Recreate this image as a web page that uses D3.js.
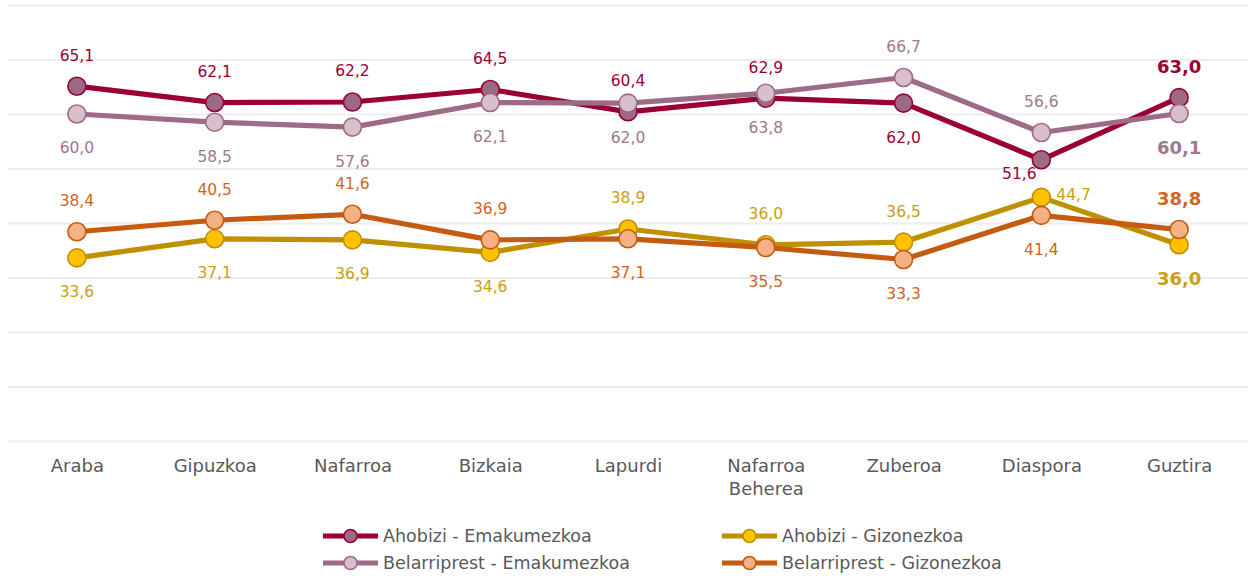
<!DOCTYPE html>
<html><head><meta charset="utf-8">
<script src="https://cdn.jsdelivr.net/npm/d3@7/dist/d3.min.js"></script>
<style>body{margin:0;background:#fff;}svg{display:block;font-family:"DejaVu Sans",sans-serif;}</style>
</head><body><svg id="c" width="1251" height="578"></svg>
<script>
const categories = ["Araba","Gipuzkoa","Nafarroa","Bizkaia","Lapurdi","Nafarroa Beherea","Zuberoa","Diaspora","Guztira"];
const ahobiziEmakume = [65.1,62.1,62.2,64.5,60.4,62.9,62.0,51.6,63.0];
const belarriprestEmakume = [60.0,58.5,57.6,62.1,62.0,63.8,66.7,56.6,60.1];
const ahobiziGizon = [33.6,37.1,36.9,34.6,38.9,36.0,36.5,44.7,36.0];
const belarriprestGizon = [38.4,40.5,41.6,36.9,37.1,35.5,33.3,41.4,38.8];
const seriesNames = ["Ahobizi - Emakumezkoa","Ahobizi - Gizonezkoa","Belarriprest - Emakumezkoa","Belarriprest - Gizonezkoa"];
const yTicks = [0,10,20,30,40,50,60,70,80];
// label placement: a=above, b=below, l=lower-left, r=right
const placeAhoEm = ["a","a","a","a","a","a","b","l","a"];
const placeAhoGiz = ["b","b","b","b","a","a","a","r","b"];
const placeBelEm = ["b","b","b","b","b","b","a","a","b"];
const placeBelGiz = ["a","a","a","a","b","b","b","b","a"];

const series = [
  {name:seriesNames[0], values:ahobiziEmakume, place:placeAhoEm, line:"#9B0035", fill:"#9C6A84", stroke:"#9B0035", label:"#9B0035"},
  {name:seriesNames[1], values:ahobiziGizon, place:placeAhoGiz, line:"#BF9000", fill:"#FFC000", stroke:"#BF9000", label:"#CC9E12"},
  {name:seriesNames[2], values:belarriprestEmakume, place:placeBelEm, line:"#9E6B86", fill:"#D9BFCC", stroke:"#9E6B86", label:"#A07891"},
  {name:seriesNames[3], values:belarriprestGizon, place:placeBelGiz, line:"#C55A11", fill:"#F4B183", stroke:"#C55A11", label:"#D0651E"}
];

const svg = d3.select("#c");
const x = d3.scalePoint().domain(categories).range([8,1248]).padding(0.5);
const y = d3.scaleLinear().domain([0,80]).range([441,5]);

// gridlines
const gy = svg.append("g").attr("transform","translate(1248,0)").call(d3.axisRight(y).tickValues(yTicks).tickSize(-1240).tickFormat(""));
gy.select(".domain").remove();
gy.selectAll(".tick line").attr("stroke","#EDEDED").attr("stroke-width",2);

// x axis labels
const gx = svg.append("g").attr("transform","translate(0,441)").call(d3.axisBottom(x).tickSize(0).tickPadding(0));
gx.select(".domain").remove();
gx.selectAll(".tick text").each(function(d){
  const t = d3.select(this);
  t.text(null).attr("fill","#595959").attr("font-size","18px").attr("font-family","'DejaVu Sans',sans-serif").attr("y",0).attr("dy",null);
  const words = d.split(" ");
  words.forEach((w,i)=>t.append("tspan").attr("x",0).attr("y",31+i*23).text(w));
});

const line = d3.line().x((d,i)=>x(categories[i])).y(d=>y(d));
series.forEach(s=>{
  const g = svg.append("g");
  g.append("path").datum(s.values).attr("d",line).attr("fill","none").attr("stroke",s.line).attr("stroke-width",5.2).attr("stroke-linejoin","round");
  g.selectAll("circle").data(s.values).join("circle")
    .attr("cx",(d,i)=>x(categories[i])).attr("cy",d=>y(d)).attr("r",9)
    .attr("fill",s.fill).attr("stroke",s.stroke).attr("stroke-width",1.6);
});

const fmt = v => v.toFixed(1).replace(".",",");
series.forEach(s=>{
  svg.append("g").selectAll("text").data(s.values).join("text")
    .attr("x",(d,i)=>{const p=s.place[i];const cx=x(categories[i]);return p==="l"?cx-22:p==="r"?cx+15:cx;})
    .attr("y",(d,i)=>{const p=s.place[i];const cy=y(d);return p==="a"?cy-31:p==="b"?cy+34:p==="l"?cy+14:cy-3;})
    .attr("dy","0.35em")
    .attr("text-anchor",(d,i)=>s.place[i]==="r"?"start":"middle")
    .attr("fill",s.label)
    .attr("font-size",(d,i)=>i===categories.length-1?"18px":"15.5px")
    .attr("font-weight",(d,i)=>i===categories.length-1?"bold":"normal")
    .text(fmt);
});

// legend
const legendPos = [{x:323,y:536},{x:722,y:536},{x:323,y:563},{x:722,y:563}];
series.forEach((s,i)=>{
  const p = legendPos[i];
  const g = svg.append("g").attr("transform",`translate(${p.x},${p.y})`);
  g.append("line").attr("x1",0).attr("x2",55).attr("y1",0).attr("y2",0).attr("stroke",s.line).attr("stroke-width",5);
  g.append("circle").attr("cx",27.5).attr("cy",0).attr("r",6.5).attr("fill",s.fill).attr("stroke",s.stroke).attr("stroke-width",1.6);
  g.append("text").attr("x",60).attr("y",0).attr("dy","0.35em").attr("fill","#595959").attr("font-size","17.5px").text(s.name);
});
</script></body></html>
